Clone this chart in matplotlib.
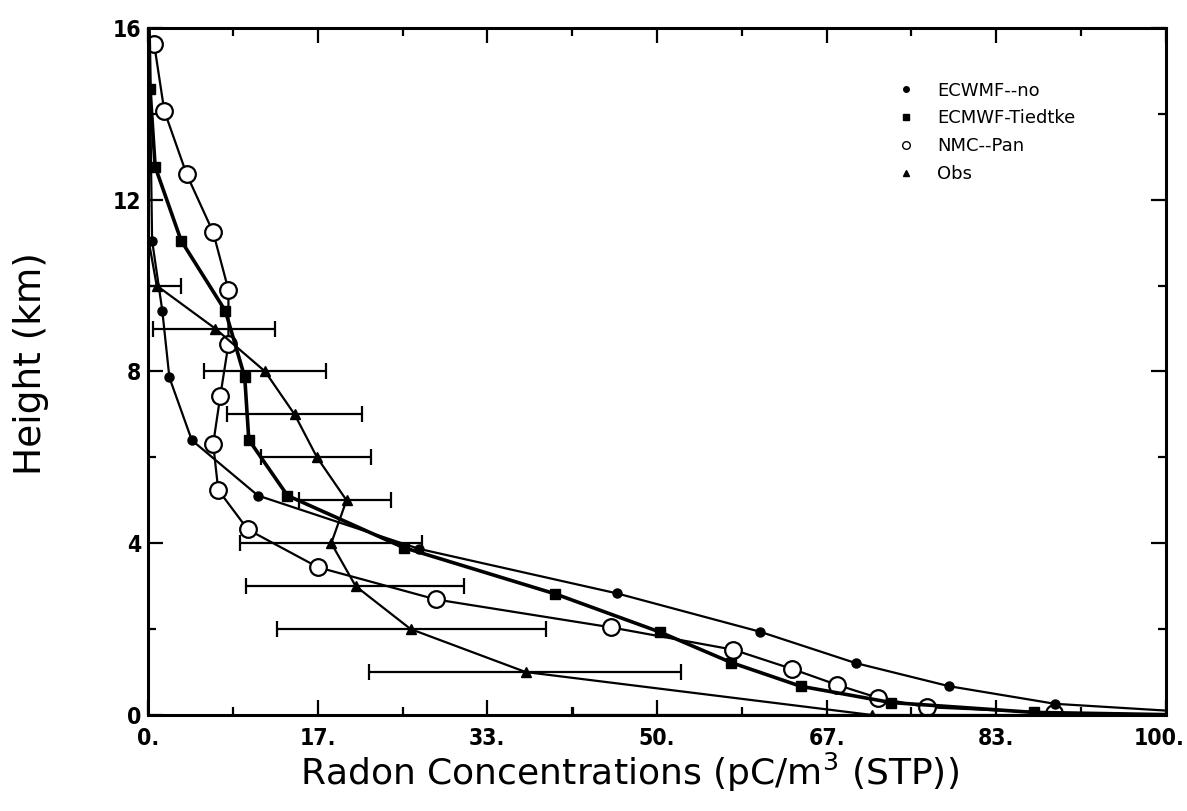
import matplotlib
matplotlib.use("Agg")
import matplotlib.pyplot as plt
import matplotlib.transforms as mtransforms
from matplotlib import font_manager
from matplotlib.lines import Line2D

# ECMWF model, no convective transport
ecmwf_no_conc = [0.1, 0.2, 0.3, 0.4, 1.4, 2.1, 4.3, 10.8, 26.6, 46.1, 60.1, 69.5, 78.7, 89.1, 105.0]
ecmwf_no_height = [16.0, 14.58, 12.77, 11.05, 9.42, 7.86, 6.40, 5.11, 3.87, 2.83, 1.94, 1.21, 0.67, 0.26, 0.03]

# ECMWF model with Tiedtke convection
tiedtke_conc = [0.1, 0.2, 0.7, 3.25, 7.6, 9.5, 9.9, 13.7, 25.1, 40.0, 50.3, 57.3, 64.1, 73.0, 87.0, 102.0]
tiedtke_height = [16.0, 14.58, 12.77, 11.05, 9.41, 7.87, 6.41, 5.11, 3.90, 2.82, 1.93, 1.22, 0.67, 0.29, 0.06, 0.0]

# NMC model with Pan convection
nmc_conc = [0.6, 1.6, 3.8, 6.4, 7.9, 7.9, 7.1, 6.4, 6.9, 9.8, 16.7, 28.3, 45.5, 57.5, 63.3, 67.7, 71.7, 76.5, 89.0, 102.0]
nmc_height = [15.63, 14.07, 12.59, 11.24, 9.90, 8.64, 7.43, 6.31, 5.24, 4.32, 3.44, 2.69, 2.04, 1.52, 1.07, 0.70, 0.40, 0.18, 0.05, 0.0]

# Observed profile with ranges
obs_height = [0, 1, 2, 3, 4, 5, 6, 7, 8, 9, 10, 11]
obs_conc = [71.1, 37.1, 25.8, 20.4, 18.0, 19.5, 16.6, 14.4, 11.5, 6.6, 0.85, 0.1]
obs_low = [41.7, 21.7, 12.7, 9.6, 9.0, 14.8, 11.1, 7.8, 5.5, 0.5, 0.05]
obs_high = [100.5, 52.4, 39.1, 31.0, 26.9, 23.9, 21.9, 21.0, 17.5, 12.5, 3.2]

x_tick_values = [0, 100 / 6, 200 / 6, 50, 400 / 6, 500 / 6, 100]
x_tick_labels = ["0.", "17.", "33.", "50.", "67.", "83.", "100."]
y_tick_values = [0, 4, 8, 12, 16]
y_tick_labels = ["0", "4", "8", "12", "16"]

series_labels = ["ECWMF--no", "ECMWF-Tiedtke", "NMC--Pan", "Obs"]

# narrow bold face for the numbers, if one is available
installed = {f.name for f in font_manager.fontManager.ttflist}
if "Liberation Sans Narrow" in installed:
    tick_props = dict(family="Liberation Sans Narrow", weight="bold", size=19)
else:
    tick_props = dict(family="DejaVu Sans", stretch="condensed", weight="bold", size=16.5)

fig = plt.figure(figsize=(11.87, 8.11), dpi=100)
ax = fig.add_axes([0.1247, 0.1184, 0.8576, 0.8471])

ax.plot(ecmwf_no_conc, ecmwf_no_height, color="black", lw=1.6,
        marker="o", ms=6.5, mfc="black", mec="black", zorder=3,
        markevery=list(range(1, len(ecmwf_no_conc) - 1)))
ax.plot(tiedtke_conc, tiedtke_height, color="black", lw=2.6,
        marker="s", ms=7, mfc="black", mec="black", zorder=4,
        markevery=list(range(1, len(tiedtke_conc) - 1)))
ax.plot(nmc_conc, nmc_height, color="black", lw=1.6,
        marker="o", ms=12, mfc="white", mec="black", mew=1.6, zorder=2,
        markevery=list(range(0, len(nmc_conc) - 1)))

n_bar = len(obs_low)
xerr = [[c - lo for c, lo in zip(obs_conc[:n_bar], obs_low)],
        [hi - c for c, hi in zip(obs_conc[:n_bar], obs_high)]]
ax.errorbar(obs_conc[:n_bar], obs_height[:n_bar], xerr=xerr, fmt="none",
            ecolor="black", elinewidth=1.6, capsize=6, capthick=1.6, zorder=2)
ax.plot(obs_conc, obs_height, color="black", lw=1.6,
        marker="^", ms=6.5, mfc="black", mec="black", zorder=3,
        markevery=list(range(n_bar)))

ax.set_xlim(0, 100)
ax.set_ylim(0, 16)

ax.set_xticks(x_tick_values)
ax.set_xticklabels(x_tick_labels)
ax.set_xticks([100 / 12 * k for k in (1, 3, 5, 7, 9, 11)], minor=True)
ax.set_yticks(y_tick_values)
ax.set_yticklabels(y_tick_labels)
ax.set_yticks([2, 6, 10, 14], minor=True)

ax.tick_params(which="both", direction="in", top=True, right=True,
               width=1.6, color="black")
ax.tick_params(which="major", length=11)
ax.tick_params(which="minor", length=6)
ax.tick_params(axis="x", which="major", pad=9)
ax.tick_params(axis="y", which="major", pad=5)
for lab in ax.get_xticklabels() + ax.get_yticklabels():
    lab.set(**tick_props)

# nudge the last x label so it stays inside the figure
last = ax.get_xticklabels()[-1]
last.set_transform(last.get_transform() +
                   mtransforms.ScaledTranslation(-7 / 100, 0, fig.dpi_scale_trans))

for sp in ax.spines.values():
    sp.set_linewidth(2.2)

ax.set_xlabel("Radon Concentrations (pC/m$^3$ (STP))", fontsize=26,
              family="DejaVu Sans")
ax.xaxis.set_label_coords(0.4725, -0.052)
ax.set_ylabel("Height (km)", fontsize=27, family="DejaVu Sans")
ax.yaxis.set_label_coords(-0.097, 0.512)

handles = [
    Line2D([], [], ls="none", marker="o", ms=4, mfc="black", mec="black"),
    Line2D([], [], ls="none", marker="s", ms=4, mfc="black", mec="black"),
    Line2D([], [], ls="none", marker="o", ms=5.5, mfc="white", mec="black", mew=1.0),
    Line2D([], [], ls="none", marker="^", ms=4.5, mfc="black", mec="black"),
]
leg = ax.legend(handles, series_labels, loc="upper left",
                bbox_to_anchor=(0.736, 0.922), frameon=False,
                fontsize=13, handlelength=1.0, handletextpad=1.2,
                labelspacing=0.55, borderpad=0, borderaxespad=0)

fig.savefig("out.png", dpi=100)
